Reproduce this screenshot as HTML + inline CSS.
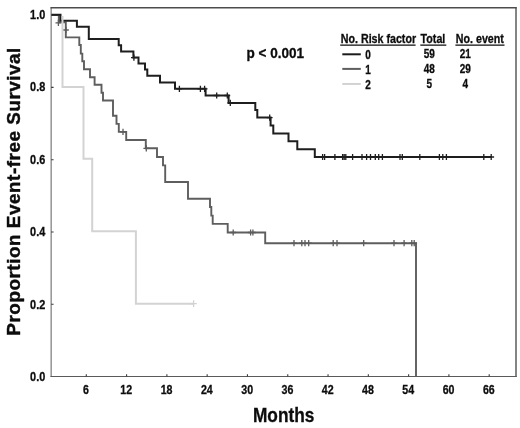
<!DOCTYPE html>
<html><head><meta charset="utf-8"><title>Event-free survival</title>
<style>
html,body{margin:0;padding:0;background:#fff;}
body{width:520px;height:428px;overflow:hidden;font-family:"Liberation Sans",sans-serif;}
svg{display:block;filter:grayscale(1);}
</style></head><body>
<svg width="520" height="428" viewBox="0 0 520 428">
<rect width="520" height="428" fill="#fff"/>
<path d="M51.2 7.7V376.5" stroke="#9a9a9a" stroke-width="1.6" fill="none"/>
<path d="M50.4 7.75H516.7" stroke="#4c4c4c" stroke-width="1.5" fill="none"/>
<path d="M516 7.2V376.9" stroke="#505050" stroke-width="1.4" fill="none"/>
<path d="M50.4 376.55H516.7" stroke="#5a5a5a" stroke-width="1.1" fill="none"/>
<path d="M86.30 374.2V376.5 M126.59 374.2V376.5 M166.88 374.2V376.5 M207.17 374.2V376.5 M247.46 374.2V376.5 M287.75 374.2V376.5 M328.04 374.2V376.5 M368.33 374.2V376.5 M408.62 374.2V376.5 M448.91 374.2V376.5 M489.20 374.2V376.5 M51.2 15.10H53.6 M51.2 87.40H53.6 M51.2 159.70H53.6 M51.2 232.00H53.6 M51.2 304.30H53.6" stroke="#3a3a3a" stroke-width="1.1" fill="none"/>
<path d="M51.50 15.00 L58.80 15.00 L58.80 22.40 L65.80 22.40 L65.80 37.40 L79.30 37.40 L79.30 45.00 L80.80 45.00 L80.80 53.60 L82.30 53.60 L82.30 61.20 L84.00 61.20 L84.00 69.20 L90.00 69.20 L90.00 77.30 L94.60 77.30 L94.60 84.80 L101.50 84.80 L101.50 92.70 L103.00 92.70 L103.00 100.50 L113.00 100.50 L113.00 115.80 L116.50 115.80 L116.50 123.90 L118.80 123.90 L118.80 131.90 L126.20 131.90 L126.20 140.00 L145.80 140.00 L145.80 148.30 L157.00 148.30 L157.00 157.00 L163.00 157.00 L163.00 165.40 L165.20 165.40 L165.20 182.00 L188.00 182.00 L188.00 198.80 L210.00 198.80 L210.00 207.00 L211.30 207.00 L211.30 215.60 L212.70 215.60 L212.70 223.90 L227.70 223.90 L227.70 232.50 L265.20 232.50 L265.20 243.20 L416.00 243.20 L416.00 376.00" stroke="#5e5e5e" stroke-width="1.9" fill="none" stroke-linejoin="miter"/>
<path d="M58.40 19.80V26.00M55.50 22.90H61.30 M65.90 26.90V33.10M63.00 30.00H68.80 M123.00 128.80V135.00M120.10 131.90H125.90 M146.30 145.20V151.40M143.40 148.30H149.20 M233.20 229.40V235.60M230.30 232.50H236.10 M250.60 229.40V235.60M247.70 232.50H253.50 M252.90 229.40V235.60M250.00 232.50H255.80 M294.00 240.10V246.30M291.10 243.20H296.90 M301.80 240.10V246.30M298.90 243.20H304.70 M305.00 240.10V246.30M302.10 243.20H307.90 M308.70 240.10V246.30M305.80 243.20H311.60 M333.20 240.10V246.30M330.30 243.20H336.10 M337.00 240.10V246.30M334.10 243.20H339.90 M363.70 240.10V246.30M360.80 243.20H366.60 M394.00 240.10V246.30M391.10 243.20H396.90 M404.10 240.10V246.30M401.20 243.20H407.00 M411.80 240.10V246.30M408.90 243.20H414.70 M414.20 240.10V246.30M411.30 243.20H417.10" stroke="#5c5c5c" stroke-width="1.3" fill="none"/>
<path d="M51.50 14.80 L60.50 14.80 L60.50 20.80 L76.90 20.80 L76.90 26.80 L88.80 26.80 L88.80 39.00 L118.70 39.00 L118.70 45.30 L121.10 45.30 L121.10 51.40 L133.40 51.40 L133.40 57.60 L138.50 57.60 L138.50 63.60 L145.00 63.60 L145.00 69.60 L147.30 69.60 L147.30 75.80 L160.00 75.80 L160.00 82.50 L175.00 82.50 L175.00 88.80 L205.60 88.80 L205.60 95.50 L228.60 95.50 L228.60 102.90 L255.30 102.90 L255.30 110.00 L257.30 110.00 L257.30 117.60 L270.60 117.60 L270.60 125.40 L273.30 125.40 L273.30 133.40 L288.50 133.40 L288.50 141.30 L297.30 141.30 L297.30 149.30 L314.80 149.30 L314.80 157.00 L491.50 157.00" stroke="#1e1e1e" stroke-width="2.0" fill="none" stroke-linejoin="miter"/>
<path d="M133.90 54.50V60.70M131.00 57.60H136.80 M179.40 85.70V91.90M176.50 88.80H182.30 M200.40 85.70V91.90M197.50 88.80H203.30 M204.60 85.70V91.90M201.70 88.80H207.50 M216.70 92.40V98.60M213.80 95.50H219.60 M227.30 92.40V98.60M224.40 95.50H230.20 M230.30 99.80V106.00M227.40 102.90H233.20 M269.70 114.50V120.70M266.80 117.60H272.60 M322.60 153.90V160.10M319.70 157.00H325.50 M324.60 153.90V160.10M321.70 157.00H327.50 M334.90 153.90V160.10M332.00 157.00H337.80 M342.60 153.90V160.10M339.70 157.00H345.50 M344.20 153.90V160.10M341.30 157.00H347.10 M345.80 153.90V160.10M342.90 157.00H348.70 M352.60 153.90V160.10M349.70 157.00H355.50 M362.00 153.90V160.10M359.10 157.00H364.90 M366.60 153.90V160.10M363.70 157.00H369.50 M370.50 153.90V160.10M367.60 157.00H373.40 M375.30 153.90V160.10M372.40 157.00H378.20 M378.70 153.90V160.10M375.80 157.00H381.60 M382.40 153.90V160.10M379.50 157.00H385.30 M400.00 153.90V160.10M397.10 157.00H402.90 M402.30 153.90V160.10M399.40 157.00H405.20 M419.80 153.90V160.10M416.90 157.00H422.70 M439.40 153.90V160.10M436.50 157.00H442.30 M442.80 153.90V160.10M439.90 157.00H445.70 M446.40 153.90V160.10M443.50 157.00H449.30 M483.80 153.90V160.10M480.90 157.00H486.70 M491.20 153.90V160.10M488.30 157.00H494.10" stroke="#1e1e1e" stroke-width="1.3" fill="none"/>
<path d="M62.50 15.90 L62.50 86.90 L83.50 86.90 L83.50 158.80 L92.20 158.80 L92.20 231.20 L135.90 231.20 L135.90 303.70 L193.80 303.70" stroke="#d3d3d3" stroke-width="2.0" fill="none" stroke-linejoin="miter"/>
<path d="M193.60 300.30V307.10M190.40 303.70H196.80" stroke="#d2d2d2" stroke-width="1.3" fill="none"/>
<g font-family="'Liberation Sans', sans-serif" font-weight="bold" fill="#0c0c0c" stroke="#0c0c0c" stroke-width="0.3">
<text transform="translate(86.00 394.20) scale(0.82 1)" font-size="13.0" text-anchor="middle" >6</text>
<text transform="translate(126.28 394.20) scale(0.82 1)" font-size="13.0" text-anchor="middle" >12</text>
<text transform="translate(166.57 394.20) scale(0.82 1)" font-size="13.0" text-anchor="middle" >18</text>
<text transform="translate(206.85 394.20) scale(0.82 1)" font-size="13.0" text-anchor="middle" >24</text>
<text transform="translate(247.14 394.20) scale(0.82 1)" font-size="13.0" text-anchor="middle" >30</text>
<text transform="translate(287.42 394.20) scale(0.82 1)" font-size="13.0" text-anchor="middle" >36</text>
<text transform="translate(327.71 394.20) scale(0.82 1)" font-size="13.0" text-anchor="middle" >42</text>
<text transform="translate(368.00 394.20) scale(0.82 1)" font-size="13.0" text-anchor="middle" >48</text>
<text transform="translate(408.28 394.20) scale(0.82 1)" font-size="13.0" text-anchor="middle" >54</text>
<text transform="translate(448.56 394.20) scale(0.82 1)" font-size="13.0" text-anchor="middle" >60</text>
<text transform="translate(488.85 394.20) scale(0.82 1)" font-size="13.0" text-anchor="middle" >66</text>
<text transform="translate(45.30 18.60) scale(0.84 1)" font-size="13.0" text-anchor="end" >1.0</text>
<text transform="translate(45.30 91.00) scale(0.84 1)" font-size="13.0" text-anchor="end" >0.8</text>
<text transform="translate(45.30 164.10) scale(0.84 1)" font-size="13.0" text-anchor="end" >0.6</text>
<text transform="translate(45.30 236.40) scale(0.84 1)" font-size="13.0" text-anchor="end" >0.4</text>
<text transform="translate(45.30 308.70) scale(0.84 1)" font-size="13.0" text-anchor="end" >0.2</text>
<text transform="translate(45.30 381.00) scale(0.84 1)" font-size="13.0" text-anchor="end" >0.0</text>
<text transform="translate(283.65 422.30) scale(0.887 1)" font-size="19.5" text-anchor="middle" >Months</text>
<text transform="translate(19.8 191.4) rotate(-90) scale(1.05 1)" font-size="18" text-anchor="middle" stroke-width="0.4" letter-spacing="0.5">Proportion Event-free Survival</text>
<text transform="translate(246.60 58.20) scale(0.966 1)" font-size="14" text-anchor="start" >p &lt; 0.001</text>
<text transform="translate(340.80 43.10) scale(0.861 1)" font-size="12.4" text-anchor="start" >No. Risk factor</text>
<text transform="translate(420.60 43.10) scale(0.861 1)" font-size="12.4" text-anchor="start" >Total</text>
<text transform="translate(455.80 43.10) scale(0.861 1)" font-size="12.4" text-anchor="start" >No. event</text>
<text transform="translate(368.00 59.10) scale(0.82 1)" font-size="12.2" text-anchor="middle" >0</text>
<text transform="translate(429.20 58.40) scale(0.82 1)" font-size="12.2" text-anchor="middle" >59</text>
<text transform="translate(465.30 58.40) scale(0.82 1)" font-size="12.2" text-anchor="middle" >21</text>
<text transform="translate(368.00 73.70) scale(0.82 1)" font-size="12.2" text-anchor="middle" >1</text>
<text transform="translate(429.20 73.00) scale(0.82 1)" font-size="12.2" text-anchor="middle" >48</text>
<text transform="translate(465.30 73.00) scale(0.82 1)" font-size="12.2" text-anchor="middle" >29</text>
<text transform="translate(368.00 88.65) scale(0.82 1)" font-size="12.2" text-anchor="middle" >2</text>
<text transform="translate(429.20 87.95) scale(0.82 1)" font-size="12.2" text-anchor="middle" >5</text>
<text transform="translate(465.30 87.95) scale(0.82 1)" font-size="12.2" text-anchor="middle" >4</text>
</g>
<path d="M340.2 45.2H415.6 M420.3 45.2H446.3 M455.4 45.2H504.5" stroke="#0c0c0c" stroke-width="1.2" fill="none"/>
<path d="M342.3 54.30H360.8" stroke="#1c1c1c" stroke-width="2" fill="none"/>
<path d="M342.3 68.90H360.8" stroke="#5e5e5e" stroke-width="2" fill="none"/>
<path d="M342.3 83.95H360.8" stroke="#d2d2d2" stroke-width="2" fill="none"/>
</svg>
</body></html>
